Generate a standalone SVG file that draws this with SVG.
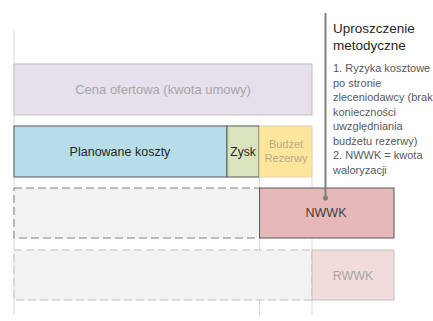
<svg xmlns="http://www.w3.org/2000/svg" width="433" height="321" viewBox="0 0 433 321">
<style>
text{font-family:"Liberation Sans",Arial,sans-serif;}
.grid{stroke:#d9d9d9;stroke-width:1;fill:none;}
.c{text-anchor:middle;}
.dark{stroke:#595959;stroke-width:1;}
.light{stroke:#bfbfbf;stroke-width:1;}
.note{font-size:11px;fill:#595959;}
</style>
<rect width="433" height="321" fill="#ffffff"/>
<g id="gridlines">
<line class="grid" x1="14" y1="30" x2="14" y2="315"/>
<line class="grid" x1="259.5" y1="177" x2="259.5" y2="315"/>
<line class="grid" x1="312" y1="177" x2="312" y2="315"/>
</g>
<g id="cena">
<rect x="14" y="64" width="298" height="51" fill="#e6e0ec" class="light"/>
<text x="163" y="94" class="c" font-size="13" fill="#a6a6a6">Cena ofertowa (kwota umowy)</text>
</g>
<g id="planowane">
<rect x="14" y="126" width="213" height="51" fill="#b7dee8" class="dark"/>
<text x="120" y="156" class="c" font-size="12.5" fill="#262626">Planowane koszty</text>
</g>
<g id="zysk">
<rect x="227" y="126" width="32" height="51" fill="#d7e4bd" class="dark"/>
<text x="243" y="156" class="c" font-size="12" fill="#262626">Zysk</text>
</g>
<g id="budzet">
<rect x="259.5" y="126" width="52.5" height="51" fill="#fde69b" stroke="#e0d3a8" stroke-width="1"/>
<text x="286" y="148" class="c" font-size="11" fill="#b5ab8c">Budżet</text>
<text x="286" y="162" class="c" font-size="11" fill="#b5ab8c">Rezerwy</text>
</g>
<g id="dashed1">
<rect x="14" y="188" width="245.5" height="50" fill="#f2f2f2" stroke="#7f7f7f" stroke-width="1" stroke-dasharray="8,4"/>
</g>
<g id="nwwk">
<rect x="259.5" y="188" width="134.5" height="50" fill="#e6b9b8" class="dark"/>
<text x="326" y="217" class="c" font-size="12.5" fill="#404040">NWWK</text>
</g>
<g id="dashed2">
<rect x="14" y="250" width="298" height="50" fill="#f2f2f2" stroke="#bfbfbf" stroke-width="1" stroke-dasharray="8,4"/>
</g>
<g id="rwwk">
<rect x="312" y="250" width="82" height="50" fill="#f2dcdb" class="light"/>
<text x="353" y="280" class="c" font-size="12.5" fill="#a6a6a6">RWWK</text>
</g>
<g id="connectors">
<line x1="325.5" y1="13" x2="325.5" y2="198" stroke="#7f7f7f" stroke-width="2"/>
<circle cx="325.5" cy="198" r="2.5" fill="#7f7f7f"/>
</g>
<g id="note">
<text x="333" y="33" font-size="13.5" fill="#262626">Uproszczenie</text>
<text x="333" y="50" font-size="13.5" fill="#262626">metodyczne</text>
<text class="note" x="333" y="72">1. Ryzyka kosztowe</text>
<text class="note" x="333" y="86.5">po stronie</text>
<text class="note" x="333" y="101">zleceniodawcy (brak</text>
<text class="note" x="333" y="115.5">konieczności</text>
<text class="note" x="333" y="130">uwzględniania</text>
<text class="note" x="333" y="144.5">budżetu rezerwy)</text>
<text class="note" x="333" y="159">2. NWWK = kwota</text>
<text class="note" x="333" y="173.5">waloryzacji</text>
</g>
</svg>
